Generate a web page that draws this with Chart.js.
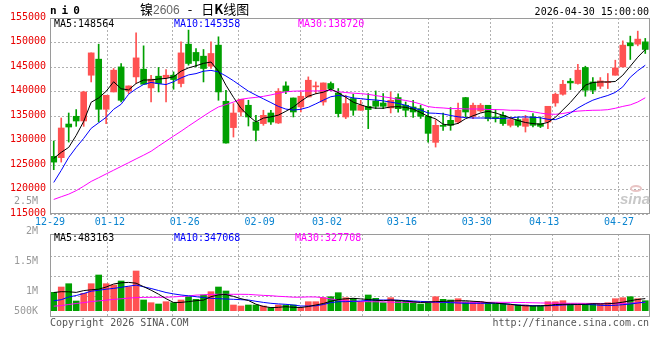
<!DOCTYPE html>
<html><head><meta charset="utf-8">
<script src="https://cdn.jsdelivr.net/npm/chart.js@4.4.1/dist/chart.umd.min.js"></script>
<style>
body{margin:0;background:#fff;width:660px;height:360px;overflow:hidden;position:relative;}
canvas{position:absolute;left:0;}
#c1{top:0}
#c2{top:190px}
.t{position:absolute;font-size:10px;line-height:12px;white-space:pre;font-family:"DejaVu Sans Mono",monospace;color:#000;}
</style></head>
<body>
<canvas id="c1" width="660" height="235"></canvas>
<canvas id="c2" width="660" height="150"></canvas>
<div class="t" style="left:50px;top:5px;font-weight:bold;font-size:11px;letter-spacing:5px">ni0</div>
<div class="t" style="left:140px;top:1px;line-height:16px"><span style="font-family:'Noto Sans CJK SC';font-size:13px">镍</span><span style="font-family:'Liberation Sans';font-size:12px;color:#666">2606</span><span style="font-family:'Noto Sans CJK SC';font-size:13px;margin-left:8px">-</span><span style="font-family:'Noto Sans CJK SC';font-size:13px;margin-left:9px">日<b>K</b>线图</span></div>
<div class="t" style="right:11px;top:6px">2026-04-30 15:00:00</div>
<div class="t" id="m5" style="left:54px;top:18px;color:#000"></div>
<div class="t" id="m10" style="left:174px;top:18px;color:#0000ff"></div>
<div class="t" id="m30" style="left:298px;top:18px;color:#ff00ff"></div>
<div class="t" id="v5" style="left:54px;top:232px;color:#000"></div>
<div class="t" id="v10" style="left:174px;top:232px;color:#0000ff"></div>
<div class="t" id="v30" style="left:295px;top:232px;color:#ff00ff"></div>
<div class="t" style="left:50px;top:317px;color:#555">Copyright 2026 SINA.COM</div>
<div class="t" style="right:11px;top:317px;color:#555">http://finance.sina.com.cn</div>
<div class="t" style="left:620px;top:191px;font-family:'Liberation Sans';font-style:italic;font-weight:bold;font-size:15px;line-height:16px;color:#c8c8c8">sina</div>
<div style="position:absolute;left:630px;top:185px;width:12px;height:7px;border-radius:50%;border:2px solid #e8c4c4;box-sizing:border-box"></div>
<script>
const dates = ['12-29','12-30','12-31','01-05','01-06','01-07','01-08','01-09','01-12','01-13','01-14','01-15','01-16','01-19','01-20','01-21','01-22','01-23','01-26','01-27','01-28','01-29','01-30','02-02','02-03','02-04','02-05','02-06','02-09','02-10','02-11','02-12','02-13','02-24','02-25','02-26','02-27','03-02','03-03','03-04','03-05','03-06','03-09','03-10','03-11','03-12','03-13','03-16','03-17','03-18','03-19','03-20','03-23','03-24','03-25','03-26','03-27','03-30','03-31','04-01','04-02','04-03','04-07','04-08','04-09','04-10','04-13','04-14','04-15','04-16','04-17','04-20','04-21','04-22','04-23','04-24','04-27','04-28','04-29','04-30'];
const shownDates = ['12-29','01-12','01-26','02-09','03-02','03-16','03-30','04-13','04-27'];
const priceTicks = [115000,120000,125000,130000,135000,140000,145000,150000,155000];
const volTickLabels = ['500K','1M','1.5M','2M','2.5M'];
const volTickValues = [666667,1000000,1500000,2000000,2500000];
const volGridValues = [588000,1388000,2188000];

const open = [126760,126490,133360,134940,133980,143320,146600,136370,139910,145020,
 140110,142980,144550,140730,143120,142850,143320,141630,149660,147970,
 147210,145160,149460,138010,132630,135820,137190,133770,133450,135610,
 133570,141140,138680,136840,138890,140950,137860,141630,139700,134800,
 138560,136170,136980,138070,137660,136640,138760,137190,136840,136500,
 134940,129620,133100,134120,133770,138760,134940,136020,137190,134800,
 135140,133100,134260,132890,134800,133450,133770,137660,139440,142100,
 141630,144900,141950,141070,141800,143320,145020,149930,149660,150130];
const high = [129890,134590,135610,136310,140050,147880,149660,139230,144690,145720,
 141140,151970,149320,143320,144900,144490,144000,150130,152530,148780,
 148570,150130,151160,140260,137540,138420,138210,135140,136170,136170,
 140600,141950,138680,139910,142980,141950,141750,141950,140600,139230,
 139440,138210,139580,140110,139580,139910,139500,137860,138210,137200,
 136170,134260,135610,136720,137660,138800,137660,137540,137190,136310,
 135820,134670,134800,135140,135490,134800,136980,139700,142300,142650,
 145570,145160,142850,142850,143670,146390,150340,151300,152320,150830];
const low = [124040,125590,129680,132890,132890,141950,133770,133450,139910,137860,
 139580,141630,141480,137860,139910,137860,140460,140930,145370,145020,
 141950,144690,138210,129480,130710,134940,132960,129890,133100,133300,
 133450,139580,134800,135820,138890,139580,137200,140200,134800,134470,
 135140,136170,132420,136500,136500,135610,135800,134840,134710,134500,
 129680,128660,132080,132080,133450,134800,134470,135820,133980,133770,
 133100,132750,132750,131730,132750,132630,132420,136980,139230,140400,
 141480,139030,139580,140600,140600,143320,145020,146530,149320,147760];
const close = [125590,132550,132750,133980,139910,147880,136370,139230,144350,138210,
 141140,146860,141480,142510,141630,143320,142440,147880,145720,146250,
 144690,147760,139910,129480,135610,138420,134800,132080,135140,133770,
 140050,140050,135820,139030,142300,141050,141750,140600,135490,137540,
 136170,137190,136310,136980,136980,138210,136500,136170,135820,134940,
 131460,133100,132890,133100,136170,135820,137190,137190,134470,134470,
 133450,134260,133100,134470,133100,132890,136980,139440,141480,141750,
 144350,140260,140260,142160,142000,144820,149460,149320,150690,148580];
const ma5 = [126350,127580,128600,131050,133900,137800,138680,140050,141990,140560,
 140320,141630,142340,142360,142550,142670,143000,144140,144820,145250,
 145740,146020,144140,141280,138820,136580,135060,133790,134570,134820,
 135180,135960,136820,138010,139030,139540,139850,140520,139750,138820,
 137820,137290,136780,136600,136580,136840,136900,136760,136410,135700,
 134920,134430,133320,133140,133490,134450,135040,135610,135960,135630,
 135120,134610,134080,133670,133450,133320,133690,134730,136250,137760,
 139520,141300,141830,141950,141950,142040,143320,145160,147000,148564];
const ma10 = [121440,123900,126550,128600,130440,132490,133610,134730,136370,137390,
 139440,140540,141440,141850,141590,141420,141990,142770,143390,143650,
 144140,144310,144000,143160,142200,141120,140070,139270,138500,137740,
 136960,136410,136210,136370,136780,137480,138230,138930,139190,139030,
 138680,138540,138370,138270,138090,137820,137580,137190,136660,136230,
 135610,135550,135430,135100,134840,134670,134590,134590,134590,134510,
 134510,134610,134780,134800,134760,134630,134330,134260,134840,135610,
 136620,137480,138230,138740,139190,139810,140950,142910,144240,145358];
const ma30 = [117970,118520,119050,119770,120670,121650,122400,123180,123940,124710,
 125470,126250,127000,127800,128850,129870,130890,131890,132940,133960,
 134980,135960,136840,137330,137840,138400,138640,138800,139010,139300,
 139640,139930,140070,140110,140110,140110,140170,140220,139950,139790,
 139660,139560,139420,139170,138930,138700,138400,138170,137860,137450,
 136920,136720,136640,136510,136510,136450,136430,136430,136330,136310,
 136270,136170,136170,136080,135860,135590,135390,135350,135510,135800,
 136000,136100,136170,136190,136290,136580,136960,137270,137860,138720];
const volume = [736000,948000,1080000,388000,696000,1080000,1428000,1080000,1028000,1188000,
 960000,1588000,428000,320000,268000,360000,320000,428000,560000,456000,
 628000,760000,948000,788000,228000,188000,228000,228000,188000,120000,
 228000,228000,228000,120000,360000,360000,520000,560000,720000,520000,
 496000,360000,628000,496000,320000,520000,388000,388000,360000,268000,
 360000,560000,456000,428000,480000,360000,360000,360000,320000,268000,
 268000,228000,228000,228000,188000,188000,360000,360000,400000,268000,
 228000,268000,268000,268000,320000,480000,520000,560000,480000,400000];
const volMa5 = [728000,760000,756000,732000,804000,836000,860000,948000,1068000,1116000,
 1132000,1100000,960000,820000,660000,480000,330000,332000,364000,400000,
 424000,560000,636000,648000,572000,480000,408000,260000,170000,124000,
 136000,160000,136000,128000,168000,228000,288000,376000,448000,476000,
 496000,472000,448000,420000,400000,424000,412000,388000,356000,328000,
 344000,360000,372000,388000,396000,400000,376000,360000,320000,300000,
 280000,256000,216000,196000,188000,196000,208000,248000,256000,256000,
 256000,256000,280000,272000,280000,300000,340000,400000,450000,483163];
const volMa10 = [396000,440000,548000,608000,688000,780000,816000,860000,892000,936000,
 980000,1024000,956000,888000,808000,728000,672000,628000,596000,560000,
 524000,496000,480000,468000,456000,440000,428000,376000,332000,296000,
 272000,256000,228000,188000,188000,196000,248000,320000,360000,360000,
 376000,388000,416000,428000,428000,428000,420000,404000,388000,372000,
 356000,348000,340000,320000,308000,296000,296000,296000,296000,296000,
 276000,256000,228000,216000,200000,200000,200000,208000,228000,240000,
 248000,248000,240000,216000,208000,216000,240000,268000,308000,347068];
const volMa30 = [180000,204000,248000,288000,324000,364000,392000,420000,452000,476000,
 504000,524000,532000,536000,536000,540000,552000,572000,588000,624000,
 636000,652000,656000,656000,656000,656000,652000,632000,612000,600000,
 576000,560000,540000,540000,552000,548000,520000,470000,430000,400000,
 375000,362000,360000,358000,350000,342000,336000,336000,336000,336000,
 336000,336000,336000,336000,336000,336000,336000,336000,336000,336000,
 334000,332000,330000,326000,318000,310000,304000,300000,298000,296000,
 296000,292000,292000,290000,280000,282000,295000,305000,318000,327708];

const last = a => a[a.length - 1];
document.getElementById('m5').textContent = 'MA5:' + last(ma5);
document.getElementById('m10').textContent = 'MA10:' + last(ma10);
document.getElementById('m30').textContent = 'MA30:' + last(ma30);
document.getElementById('v5').textContent = 'MA5:' + last(volMa5);
document.getElementById('v10').textContent = 'MA10:' + last(volMa10);
document.getElementById('v30').textContent = 'MA30:' + last(volMa30);

const RED = '#ff5252', GREEN = '#00a000';
const GRID = '#b0b0b0', FRAME = '#9a9a9a';
const MONO = 'DejaVu Sans Mono';
const candleColors = dates.map((d, i) => close[i] >= open[i] ? RED : GREEN);
const shown = new Set(shownDates);
const gridIdx = shownDates.slice(1).map(d => dates.indexOf(d));

const frame = {
  id: 'frame',
  afterDraw(chart) {
    const { ctx, chartArea: a } = chart;
    ctx.save();
    ctx.strokeStyle = FRAME; ctx.lineWidth = 1; ctx.setLineDash([]);
    ctx.strokeRect(Math.round(a.left) + 0.5, Math.round(a.top) + 0.5,
      Math.round(a.right - a.left), Math.round(a.bottom - a.top) - 1);
    ctx.restore();
  }
};

function xCat(showLabels, h) {
  return {
    type: 'category', offset: true, position: 'bottom',
    grid: { display: false, offset: true, drawTicks: false },
    border: { display: false },
    ticks: { display: showLabels, autoSkip: false, maxRotation: 0, minRotation: 0,
      labelOffset: -3.75, padding: 2, color: '#0a84d0', font: { family: MONO, size: 10 },
      callback: (v, i) => shown.has(dates[i]) ? dates[i] : '' },
    afterFit: s => { s.height = h; }
  };
}
function xGrid() {
  return {
    type: 'linear', position: 'top', min: 0, max: dates.length,
    afterBuildTicks: s => { s.ticks = gridIdx.map(v => ({ value: v })); },
    afterFit: s => { s.height = 0; },
    ticks: { display: false },
    grid: { color: GRID, lineWidth: 1, drawTicks: false },
    border: { display: false, dash: [2, 2] }
  };
}

const line = (data, color, yAxisID) => ({ type: 'line', data, borderColor: color, borderWidth: 1,
  pointRadius: 0, tension: 0, fill: false, xAxisID: 'x', yAxisID, order: 0 });

new Chart(document.getElementById('c1'), {
  type: 'bar',
  data: {
    labels: dates,
    datasets: [
      line(ma5, '#000000', 'y'),
      line(ma10, '#0000ff', 'y'),
      line(ma30, '#ff00ff', 'y'),
      { type: 'bar', data: open.map((o, i) => [o, close[i]]), backgroundColor: candleColors,
        barThickness: 6, minBarLength: 1, grouped: false, borderWidth: 0, xAxisID: 'x', yAxisID: 'y', order: 1 },
      { type: 'bar', data: low.map((l, i) => [l, high[i]]), backgroundColor: candleColors,
        barThickness: 1, grouped: false, borderWidth: 0, xAxisID: 'x', yAxisID: 'y', order: 2 }
    ]
  },
  options: {
    responsive: false, animation: false, events: [],
    layout: { padding: { top: 18, right: 11, left: 0, bottom: 0 } },
    plugins: { legend: { display: false }, tooltip: { enabled: false }, title: { display: false } },
    scales: {
      x: xCat(true, 21),
      xg: xGrid(),
      y: {
        position: 'left', min: 115000, max: 155000,
        afterBuildTicks: s => { s.ticks = priceTicks.map(v => ({ value: v })); },
        afterFit: s => { s.width = 50; },
        grid: { color: GRID, lineWidth: 1, drawTicks: false },
        border: { display: false, dash: [2, 2] },
        ticks: { autoSkip: false, padding: 4, labelOffset: -1, color: '#e80000',
          font: { family: MONO, size: 10 }, callback: v => String(v) }
      }
    }
  },
  plugins: [frame]
});

new Chart(document.getElementById('c2'), {
  type: 'bar',
  data: {
    labels: dates,
    datasets: [
      line(volMa5, '#000000', 'yv'),
      line(volMa10, '#0000ff', 'yv'),
      line(volMa30, '#ff00ff', 'yv'),
      { type: 'bar', data: volume, backgroundColor: candleColors, barThickness: 6,
        grouped: false, borderWidth: 0, xAxisID: 'x', yAxisID: 'yv', order: 1 }
    ]
  },
  options: {
    responsive: false, animation: false, events: [],
    layout: { padding: { top: 44, right: 11, left: 0, bottom: 23 } },
    plugins: { legend: { display: false }, tooltip: { enabled: false }, title: { display: false } },
    scales: {
      x: xCat(false, 0),
      xg: xGrid(),
      yv: {
        position: 'right', min: -252000, max: 3068000,
        afterBuildTicks: s => { s.ticks = volGridValues.map(v => ({ value: v })); },
        afterFit: s => { s.width = 0; },
        ticks: { display: false },
        grid: { color: GRID, lineWidth: 1, drawTicks: false },
        border: { display: false, dash: [2, 2] }
      },
      yl: {
        position: 'left', min: 566667, max: 1950000,
        afterBuildTicks: s => { s.ticks = volTickValues.map(v => ({ value: v })); },
        afterFit: s => { s.width = 50; },
        grid: { display: false },
        border: { display: false },
        ticks: { autoSkip: false, padding: 4, color: '#999999', font: { family: MONO, size: 10 },
          callback: v => { const k = volTickValues.indexOf(v); return k >= 0 ? volTickLabels[k] : ''; } }
      }
    }
  },
  plugins: [frame]
});
</script>
</body></html>
